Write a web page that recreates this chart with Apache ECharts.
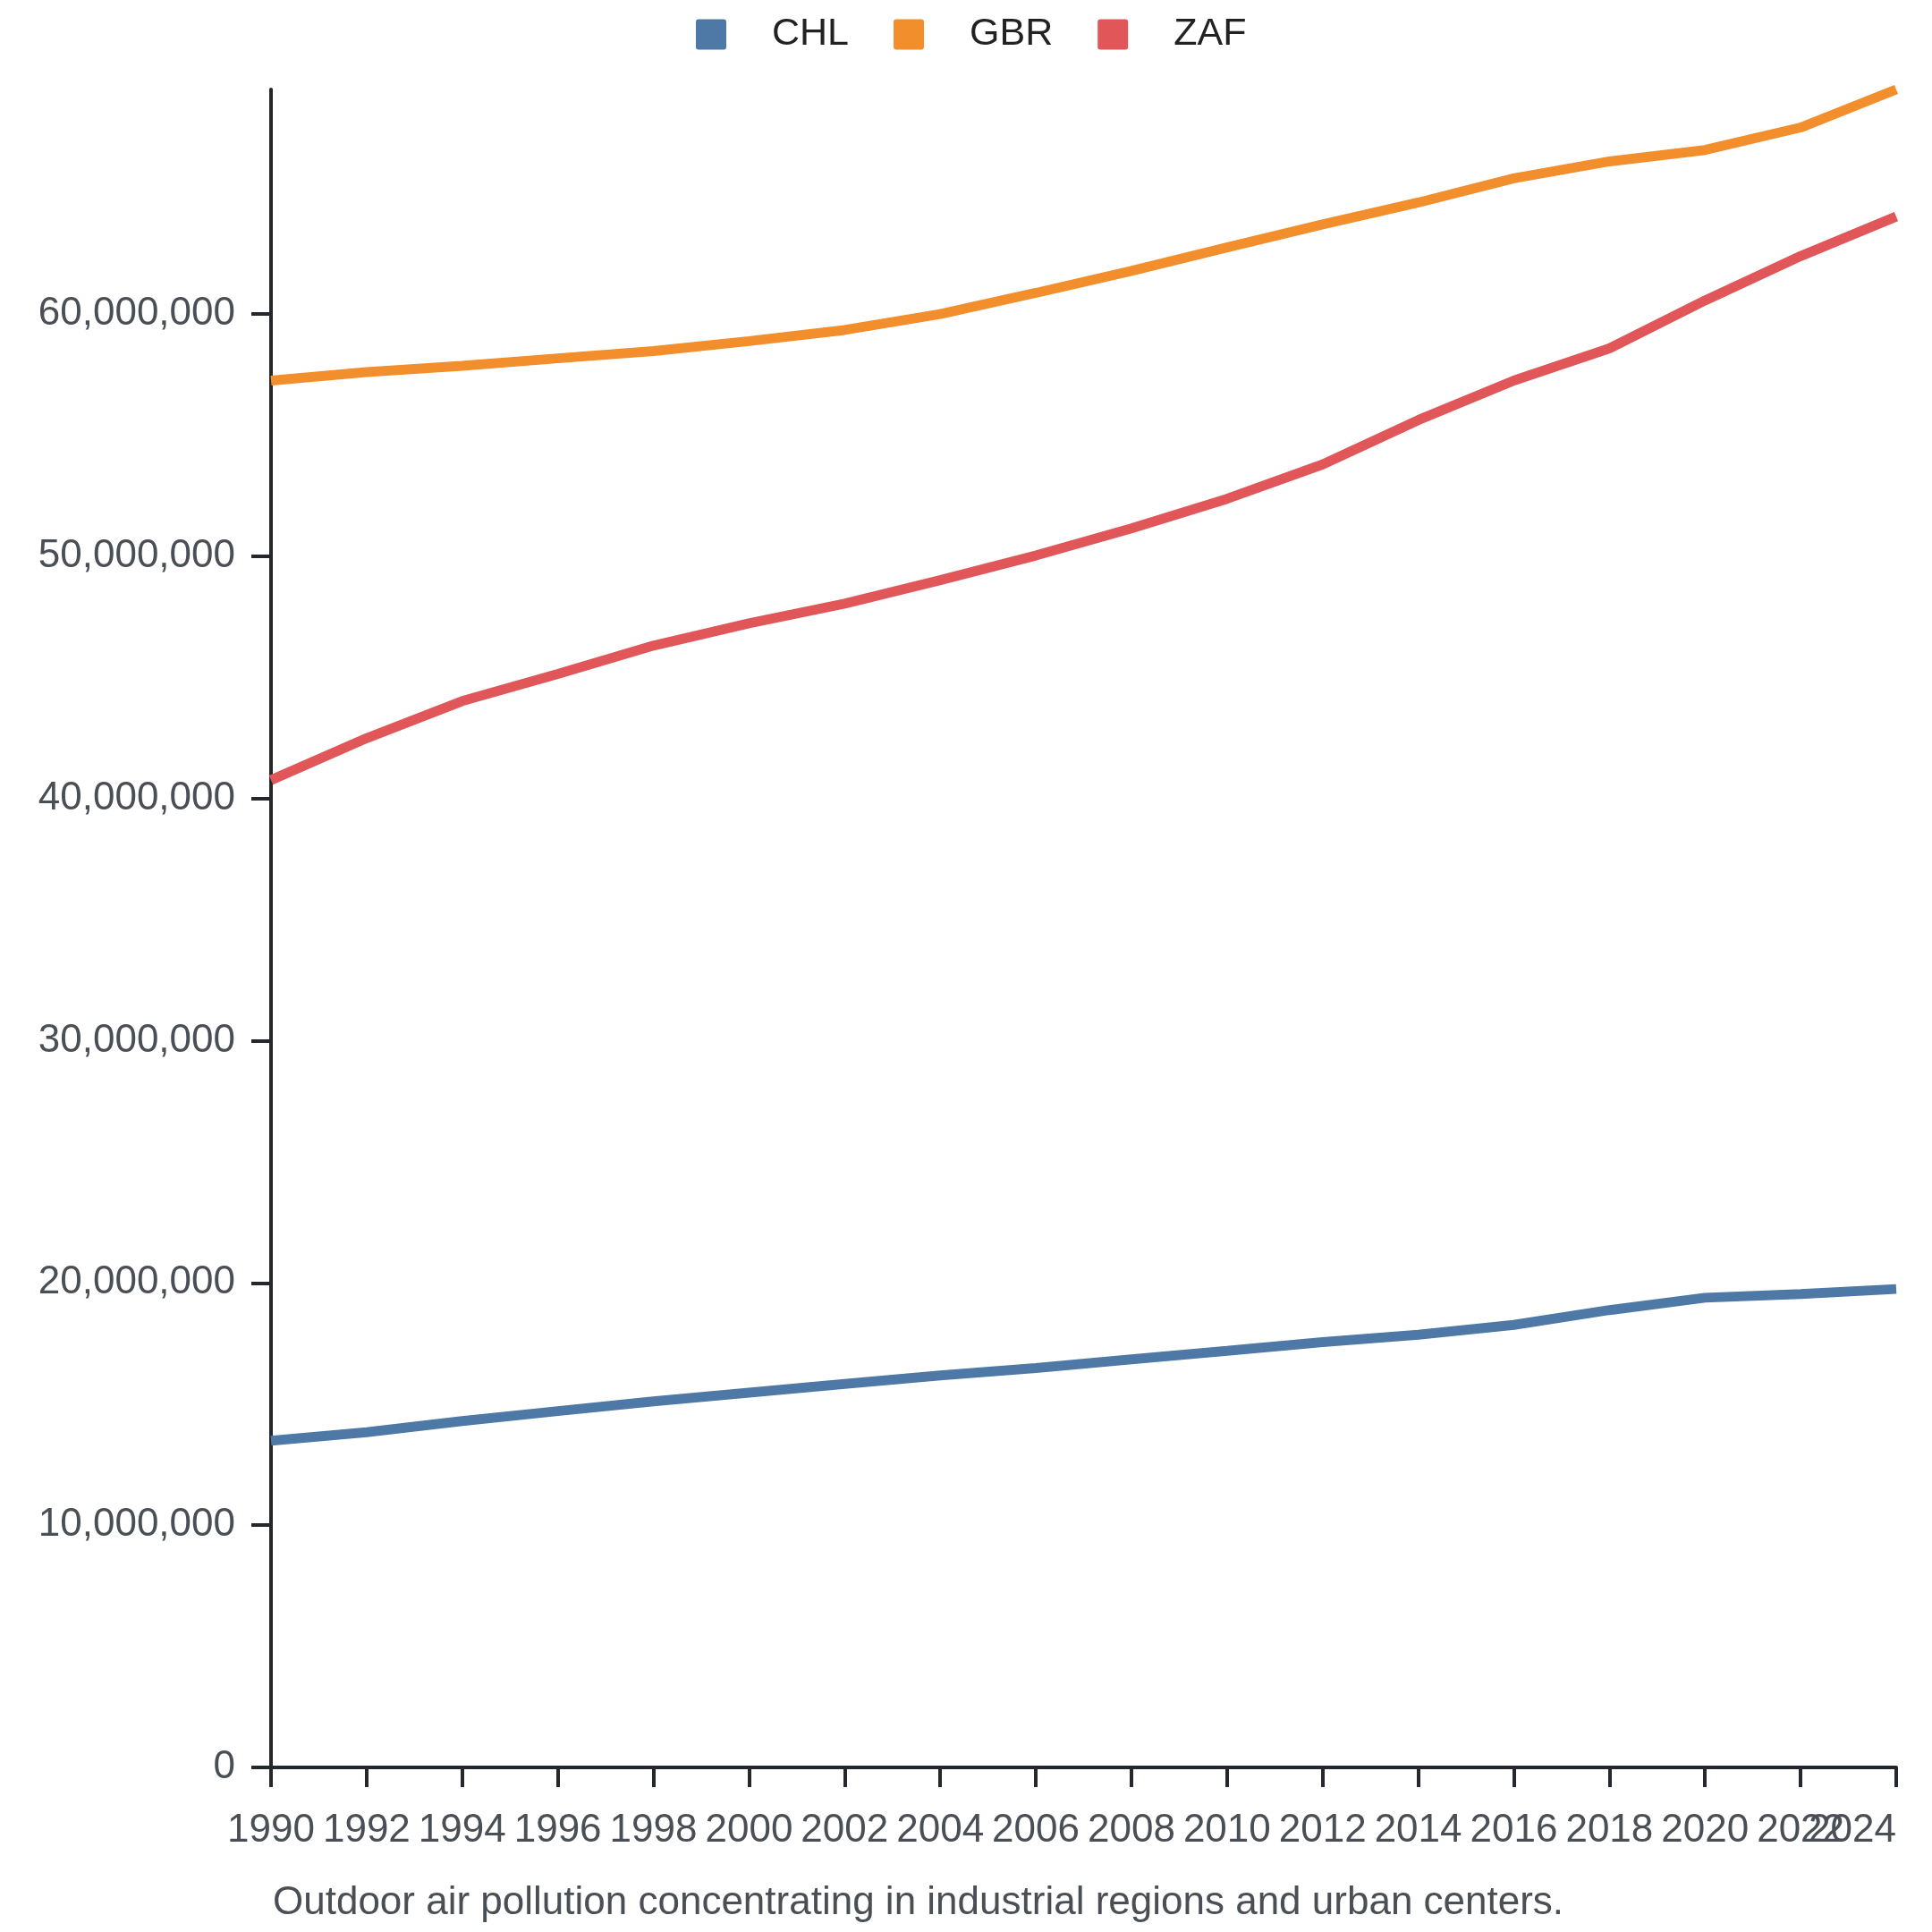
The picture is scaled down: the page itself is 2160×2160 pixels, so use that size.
<!DOCTYPE html>
<html>
<head>
<meta charset="utf-8">
<style>
  html, body { margin: 0; padding: 0; background: #fff; overflow: hidden; }
  #chart { width: 100vw; height: 100vh; }
</style>
<script src="https://cdn.jsdelivr.net/npm/echarts@6/dist/echarts.min.js"></script>
</head>
<body>
<div id="chart"></div>
<script>
var years = [1990, 1992, 1994, 1996, 1998, 2000, 2002, 2004, 2006, 2008, 2010, 2012, 2014, 2016, 2018, 2020, 2022, 2024];
var chl = [13490000, 13840000, 14300000, 14710000, 15110000, 15470000, 15830000, 16180000, 16490000, 16850000, 17200000, 17560000, 17860000, 18270000, 18880000, 19390000, 19540000, 19750000];
var gbr = [57250000, 57600000, 57860000, 58170000, 58470000, 58880000, 59340000, 60000000, 60870000, 61780000, 62750000, 63700000, 64600000, 65600000, 66300000, 66770000, 67700000, 69270000];
var zaf = [40760000, 42490000, 44020000, 45140000, 46310000, 47230000, 48040000, 49010000, 50030000, 51150000, 52370000, 53790000, 55620000, 57250000, 58580000, 60560000, 62390000, 64020000];
var yTicks = [0, 10000000, 20000000, 30000000, 40000000, 50000000, 60000000];
var xTicks = [1990, 1992, 1994, 1996, 1998, 2000, 2002, 2004, 2006, 2008, 2010, 2012, 2014, 2016, 2018, 2020, 2022, 2024];
var lastYear = 2024;
var note = "Outdoor air pollution concentrating in industrial regions and urban centers.";

function pairs(vals) {
  return years.map(function (y, i) { return [y, vals[i]]; });
}

var font = "Liberation Sans, Arial, sans-serif";
var axisColor = "#24272b";
var labelColor = "#4a4f55";

var xBase = {
  type: "value",
  min: 1990,
  max: 2024,
  interval: 2,
  position: "bottom",
  splitLine: { show: false }
};

var chart = echarts.init(document.getElementById("chart"));
chart.setOption({
  animation: false,
  color: ["#4e79a7", "#f28e2b", "#e15759"],
  textStyle: { fontFamily: font },
  title: {
    text: note,
    left: 300,
    bottom: 5,
    textStyle: { fontSize: 44, fontWeight: "normal", color: "#4a4f55", fontFamily: font }
  },
  legend: {
    top: 12,
    left: 773,
    itemWidth: 34,
    itemHeight: 34,
    itemGap: 50,
    icon: "path://M3,0 H31 Q34,0 34,3 V31 Q34,34 31,34 H3 Q0,34 0,31 V3 Q0,0 3,0 Z",
    textStyle: { fontSize: 43, color: "#222", padding: [0, 0, 0, 46], fontFamily: font },
    data: ["CHL", "GBR", "ZAF"]
  },
  grid: { left: 303, right: 40, top: 100, bottom: 184, containLabel: false, outerBoundsMode: "none" },
  xAxis: [
    Object.assign({}, xBase, {
      axisLine: { show: true, lineStyle: { color: axisColor, width: 4 } },
      axisTick: { show: true, length: 22, customValues: xTicks, lineStyle: { color: axisColor, width: 4 } },
      axisLabel: {
        fontSize: 44, color: labelColor, margin: 49, hideOverlap: false,
        customValues: xTicks.filter(function (v) { return v !== lastYear; }),
        formatter: function (v) { return String(v); }
      }
    }),
    Object.assign({}, xBase, {
      axisLine: { show: false },
      axisTick: { show: false },
      axisLabel: {
        fontSize: 44, color: labelColor, margin: 49, hideOverlap: false,
        showMaxLabel: true, showMinLabel: true, alignMaxLabel: "right", alignMinLabel: "right",
        customValues: [lastYear],
        formatter: function (v) { return String(v); }
      }
    })
  ],
  yAxis: {
    type: "value",
    min: 0,
    max: "dataMax",
    splitLine: { show: false },
    axisLine: { show: true, lineStyle: { color: axisColor, width: 4 } },
    axisTick: { show: true, length: 22, customValues: yTicks, lineStyle: { color: axisColor, width: 4 } },
    axisLabel: {
      fontSize: 44, color: labelColor, margin: 40, customValues: yTicks,
      formatter: function (v) { return v.toLocaleString("en-US"); }
    }
  },
  series: [
    { name: "CHL", type: "line", data: pairs(chl), showSymbol: false, lineStyle: { width: 11 } },
    { name: "GBR", type: "line", data: pairs(gbr), showSymbol: false, lineStyle: { width: 11 } },
    { name: "ZAF", type: "line", data: pairs(zaf), showSymbol: false, lineStyle: { width: 11 } }
  ]
});
</script>
</body>
</html>
